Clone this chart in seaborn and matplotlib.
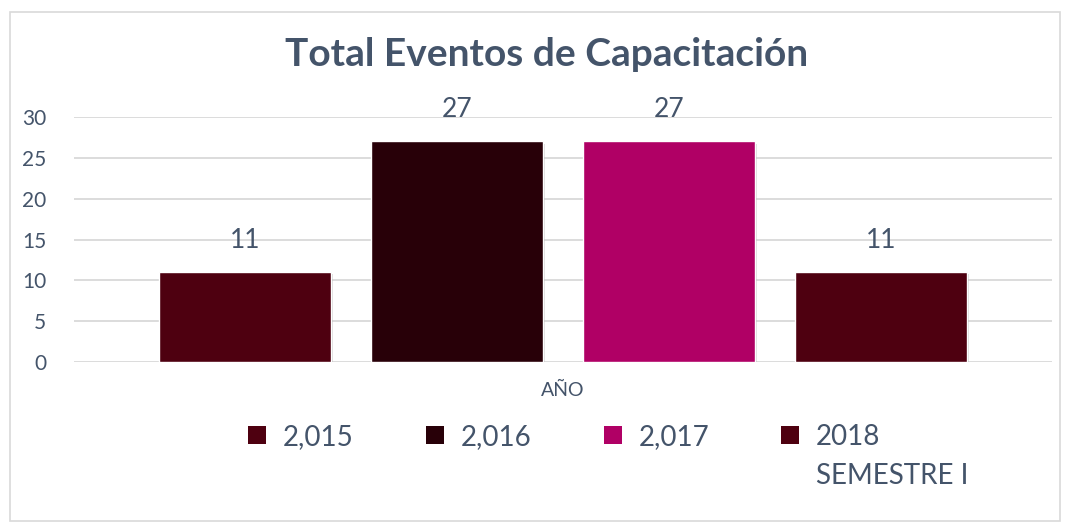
import numpy as np
import pandas as pd
import seaborn as sns
import matplotlib.pyplot as plt
from matplotlib.patches import Rectangle, Patch
import matplotlib.patheffects as pe

# data
categoria = ["AÑO"]
anios = ["2,015", "2,016", "2,017", "2018\nSEMESTRE I"]
eventos = [11, 27, 27, 11]
colores = ["#4E0010", "#280008", "#B00065", "#4E0010"]

texto = "#44546A"

df = pd.DataFrame({"cat": categoria * len(anios), "anio": anios, "eventos": eventos})

sns.set_theme(style="white")
plt.rcParams["font.family"] = ["Lato", "DejaVu Sans"]

fig = plt.figure(figsize=(10.71, 5.27), dpi=100)
ax = fig.add_axes([0.069, 0.313, 0.913, 0.465])

sns.barplot(data=df, x="cat", y="eventos", hue="anio", hue_order=anios,
            palette=dict(zip(anios, colores)), width=0.867, gap=0.19,
            saturation=1, legend=False, ax=ax, zorder=3)

# light shadow like the office chart
for bar in ax.patches:
    bar.set_path_effects([pe.SimplePatchShadow(offset=(1.5, -1.5), shadow_rgbFace="#999999", alpha=0.35),
                          pe.Normal()])

for cont in ax.containers:
    ax.bar_label(cont, padding=14, fontsize=19, color=texto)

ax.set_ylim(0, 30)
ax.set_xlim(-0.5, 0.5)
ax.set_yticks(range(0, 31, 5))
ax.yaxis.grid(True, color="#D9D9D9", lw=1.3, zorder=0)
ax.set_axisbelow(True)
sns.despine(ax=ax, left=True, bottom=True, top=True, right=True)
ax.tick_params(axis="y", length=0, pad=20, labelsize=15, labelcolor=texto)
ax.tick_params(axis="x", length=0, labelbottom=False)
ax.set_ylabel("")
ax.set_xlabel("AÑO", fontsize=14, color=texto, labelpad=14)

fig.suptitle("Total Eventos de Capacitación", x=0.51, y=0.93, fontsize=28,
             fontweight="bold", color=texto)

# legend: first line of each label next to the square, second line wraps below
primera = [a.split("\n")[0] for a in anios]
handles = [Patch(facecolor=c, edgecolor="none") for c in colores]
leg = fig.legend(handles, primera, loc="center", bbox_to_anchor=(0.527, 0.171),
                 ncol=4, frameon=False, fontsize=20, handlelength=0.65, handleheight=0.65,
                 handletextpad=0.6, columnspacing=2.6, labelcolor=texto)

fig.canvas.draw()
for t, a in zip(leg.get_texts(), anios):
    resto = a.split("\n")[1:]
    if resto:
        bb = t.get_window_extent().transformed(fig.transFigure.inverted())
        fig.text(bb.x0, bb.y0 - 0.075, "\n".join(resto), fontsize=20, color=texto,
                 ha="left", va="bottom")

fig.patches.append(Rectangle((0.009, 0.012), 0.981, 0.965, transform=fig.transFigure,
                             fill=False, edgecolor="#D9D9D9", lw=1.2))

fig.savefig("out.png", dpi=100)
